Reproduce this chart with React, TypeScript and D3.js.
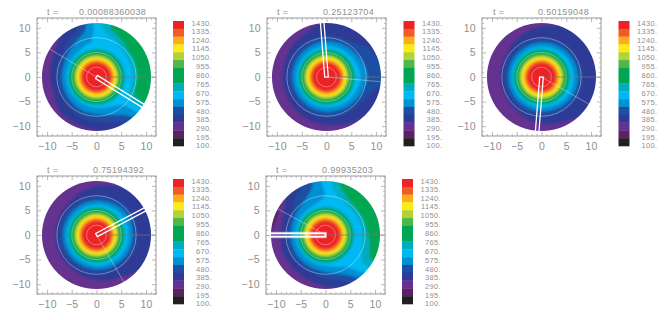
import React, { useEffect, useRef } from "react";
import * as d3 from "d3";

const times = ["0.00088360038", "0.25123704", "0.50159048", "0.75194392", "0.99935203"];
const barLabels = [1430, 1335, 1240, 1145, 1050, 955, 860, 765, 670, 575, 480, 385, 290, 195, 100];
// colour bar cells, top to bottom
const barColors = [
  "#ec2227", "#f15a29", "#fbae17", "#fdeb14", "#b2d235", "#4fb848", "#00a651", "#00a651",
  "#00adc0", "#00b9f2", "#0090d4", "#1c4fa1", "#2e3a96", "#65308f", "#5b2166", "#231f20",
];
const axisTicks = [-10, -5, 0, 5, 10];
const minorTicks = d3.range(-12, 13).filter((d) => d % 5 !== 0);
const contourRadii = [2, 5, 8];

// needle and thin line directions, degrees counter clockwise from east
const needleAngles = [-32, 94.5, 265.5, 28, 180];
const wakeAngles = [149, -5, -30, -60, 151];

// the core is the same in every panel
const coreRadii = [0, 1, 2, 2.8, 3.2, 3.6, 4, 4.3, 4.6, 5, 5.5];
const coreValues = [1450, 1430, 1395, 1347, 1264, 1181, 1098, 1015, 931, 840, 765];

// outer part: one row per direction (every 22.5 deg from east), values at outerRadii
const outerRadii = [6, 7, 8.5, 10, 11.2];
const field1 = [
  [650, 660, 790, 820, 820], [640, 660, 780, 820, 820], [630, 640, 770, 820, 820], [625, 625, 680, 790, 820],
  [620, 605, 620, 620, 640], [615, 590, 530, 440, 400], [610, 550, 450, 370, 340], [605, 520, 390, 340, 300],
  [605, 510, 385, 325, 290], [600, 510, 385, 320, 290], [600, 525, 420, 360, 300], [610, 540, 440, 370, 310],
  [620, 550, 460, 380, 340], [630, 580, 510, 420, 380], [640, 620, 600, 570, 540], [650, 670, 780, 820, 820],
];
const field2 = [
  [650, 590, 500, 470, 460], [640, 570, 480, 470, 420], [635, 550, 445, 420, 390], [630, 540, 430, 390, 370],
  [625, 530, 420, 380, 350], [615, 520, 400, 350, 320], [605, 510, 385, 330, 300], [600, 500, 365, 320, 290],
  [595, 500, 360, 320, 290], [595, 500, 360, 320, 290], [600, 500, 370, 320, 290], [610, 510, 385, 330, 300],
  [615, 520, 400, 340, 310], [625, 530, 420, 360, 330], [635, 550, 430, 380, 350], [640, 570, 460, 410, 390],
];
const field3 = [
  [650, 545, 410, 380, 370], [640, 540, 400, 375, 365], [635, 530, 400, 370, 360], [625, 520, 395, 365, 350],
  [615, 510, 385, 355, 335], [605, 500, 370, 340, 320], [595, 490, 355, 325, 300], [590, 485, 340, 310, 290],
  [590, 485, 335, 305, 285], [590, 485, 335, 305, 285], [595, 490, 345, 310, 285], [605, 495, 360, 320, 290],
  [615, 510, 380, 335, 305], [625, 520, 395, 350, 325], [635, 535, 405, 370, 350], [645, 545, 410, 380, 365],
];
const field4 = [
  [645, 540, 400, 370, 360], [640, 550, 420, 400, 390], [640, 545, 430, 410, 370], [630, 520, 395, 365, 345],
  [620, 510, 380, 350, 325], [605, 500, 365, 330, 305], [595, 490, 350, 310, 295], [590, 485, 340, 305, 285],
  [590, 485, 335, 300, 285], [590, 485, 340, 300, 285], [595, 490, 345, 305, 285], [605, 495, 355, 315, 290],
  [615, 505, 370, 325, 300], [625, 520, 390, 340, 320], [635, 530, 400, 360, 345], [640, 540, 400, 370, 355],
];
const field5 = [
  [650, 650, 760, 820, 830], [645, 650, 780, 830, 830], [640, 650, 790, 830, 830], [630, 630, 720, 790, 820],
  [625, 610, 600, 620, 640], [615, 580, 530, 480, 440], [610, 550, 450, 400, 360], [605, 520, 385, 320, 190],
  [600, 510, 375, 310, 270], [595, 510, 385, 320, 280], [600, 520, 385, 325, 290], [610, 530, 400, 340, 300],
  [620, 550, 450, 370, 320], [635, 600, 520, 440, 390], [645, 640, 640, 620, 580], [650, 650, 700, 790, 820],
];
const fields = [field1, field2, field3, field4, field5];

// layout of each panel
const panels = [
  { left: 37, top: 18, barLeft: 173, barTop: 21, tX: 47, valueX: 79 },
  { left: 267, top: 18, barLeft: 403.5, barTop: 21, tX: 277, valueX: 323 },
  { left: 482, top: 18, barLeft: 618.5, barTop: 21, tX: 493, valueX: 538 },
  { left: 37, top: 176, barLeft: 173, barTop: 179, tX: 47, valueX: 93 },
  { left: 266, top: 176, barLeft: 402, barTop: 179, tX: 276, valueX: 322 },
];

const gray = "#909090";
const fontFamily = "'Liberation Sans', Arial, sans-serif";
const plotW = 119;
const plotH = 118;
const discR = 11;

// Catmull-Rom between neighbouring directions so the bands bend smoothly
const rom = (a: number, b: number, c: number, d: number, t: number) =>
  0.5 * (2 * b + (c - a) * t + (2 * a - 5 * b + 4 * c - d) * t * t + (3 * b - a - 3 * c + d) * t * t * t);

function fieldLookup(rows: number[][]) {
  const radial = rows.map((row) =>
    d3.scaleLinear().domain(coreRadii.concat(outerRadii)).range(coreValues.concat(row)).clamp(true)
  );
  const m = rows.length;
  const step = 360 / m;
  return (x: number, y: number) => {
    const r = Math.hypot(x, y);
    let a = (Math.atan2(y, x) * 180) / Math.PI;
    if (a < 0) a += 360;
    const i = Math.floor(a / step) % m;
    const t = a / step - Math.floor(a / step);
    return rom(
      radial[(i + m - 1) % m](r),
      radial[i](r),
      radial[(i + 1) % m](r),
      radial[(i + 2) % m](r),
      t
    );
  };
}

const fmt = (d: any) => String(d).replace("-", "\u2212");

export default function App() {
  const ref = useRef<SVGSVGElement>(null);

  useEffect(() => {
    const svg = d3.select(ref.current);
    svg.selectAll("*").remove();

    const defs = svg.append("defs");
    defs.append("filter").attr("id", "soft").append("feGaussianBlur").attr("stdDeviation", 0.9);

    const colorsUp = barColors.slice().reverse();
    const cell = (1430 - 100) / colorsUp.length;
    const thresholds = colorsUp.map((_, i) => 100 + i * cell);

    const n = 120;
    const gridStep = 24 / n;

    panels.forEach((p, pi) => {
      const g = svg.append("g").attr("transform", `translate(${p.left},${p.top})`);
      const x = d3.scaleLinear().domain([-12, 12]).range([0, plotW]);
      const y = d3.scaleLinear().domain([-12, 12]).range([plotH, 0]);

      defs.append("clipPath").attr("id", `disc${pi}`)
        .append("ellipse")
        .attr("cx", x(0)).attr("cy", y(0))
        .attr("rx", x(discR) - x(0)).attr("ry", y(0) - y(discR));

      // filled bands
      const lookup = fieldLookup(fields[pi]);
      const values = new Array(n * n);
      for (let j = 0; j < n; j++) {
        for (let i = 0; i < n; i++) {
          values[j * n + i] = lookup(-12 + (i + 0.5) * gridStep, 12 - (j + 0.5) * gridStep);
        }
      }
      const bands = d3.contours().size([n, n]).thresholds(thresholds)(values);
      const path = d3.geoPath(
        d3.geoTransform({
          point(px: number, py: number) {
            (this as any).stream.point(x(-12 + px * gridStep), y(12 - py * gridStep));
          },
        })
      );
      g.append("g").attr("clip-path", `url(#disc${pi})`)
        .append("g").attr("filter", "url(#soft)")
        .selectAll("path")
        .data(bands)
        .join("path")
        .attr("d", (d: any) => path(d))
        .attr("fill", (_, i) => colorsUp[i]);

      // radius rings
      g.selectAll("ellipse.ring")
        .data(contourRadii)
        .join("ellipse")
        .attr("class", "ring")
        .attr("cx", x(0)).attr("cy", y(0))
        .attr("rx", (d) => x(d) - x(0)).attr("ry", (d) => y(0) - y(d))
        .attr("fill", "none")
        .attr("stroke", "#fff").attr("stroke-opacity", 0.5).attr("stroke-width", 0.7);

      // thin lines out of the centre
      g.append("line")
        .attr("x1", x(0)).attr("y1", y(0)).attr("x2", plotW).attr("y2", y(0))
        .attr("stroke", "#777").attr("stroke-width", 0.7);
      const wake = (wakeAngles[pi] * Math.PI) / 180;
      g.append("line")
        .attr("x1", x(0)).attr("y1", y(0))
        .attr("x2", x(discR * Math.cos(wake))).attr("y2", y(discR * Math.sin(wake)))
        .attr("stroke", "#fff").attr("stroke-opacity", 0.5).attr("stroke-width", 0.7);

      // needle: two white lines, closed at the centre end
      const a = (needleAngles[pi] * Math.PI) / 180;
      const off = 0.36;
      const nx = -Math.sin(a) * off;
      const ny = Math.cos(a) * off;
      const end = 11.1;
      const ex = end * Math.cos(a);
      const ey = end * Math.sin(a);
      const needle = d3.path();
      needle.moveTo(x(ex + nx), y(ey + ny));
      needle.lineTo(x(nx), y(ny));
      needle.lineTo(x(-nx), y(-ny));
      needle.lineTo(x(ex - nx), y(ey - ny));
      if (pi === 4) {
        // the horizontal one reads paler and wider in the last panel
        g.append("path")
          .attr("d", needle.toString())
          .attr("fill", "none").attr("stroke", "#fff").attr("stroke-opacity", 0.45).attr("stroke-width", 2.8);
      }
      g.append("path")
        .attr("d", needle.toString())
        .attr("fill", "none").attr("stroke", "#fff").attr("stroke-width", 1.3);

      // frame and ticks
      g.append("rect")
        .attr("width", plotW).attr("height", plotH)
        .attr("fill", "none").attr("stroke", "#999").attr("stroke-width", 1);

      const axes = [
        { axis: d3.axisBottom(x), at: `translate(0,${plotH})`, labels: true, pad: 7 },
        { axis: d3.axisTop(x), at: "translate(0,0)", labels: false, pad: 0 },
        { axis: d3.axisLeft(y), at: "translate(0,0)", labels: true, pad: 6 },
        { axis: d3.axisRight(y), at: `translate(${plotW},0)`, labels: false, pad: 0 },
      ];
      axes.forEach(({ axis, at, labels, pad }) => {
        const scaleAxis = axis as any;
        const major = g.append("g").attr("transform", at).call(
          scaleAxis.tickValues(axisTicks).tickSize(-4).tickPadding(pad)
            .tickFormat(labels ? fmt : () => "")
        );
        major.select(".domain").remove();
        major.selectAll("line").attr("stroke", "#999").attr("stroke-width", 0.7);
        major.selectAll("text")
          .attr("fill", gray).attr("font-size", 10.5).attr("letter-spacing", 0.3).attr("font-family", fontFamily);
        const minor = g.append("g").attr("transform", at).call(
          scaleAxis.tickValues(minorTicks).tickSize(-2).tickFormat(() => "")
        );
        minor.select(".domain").remove();
        minor.selectAll("line").attr("stroke", "#999").attr("stroke-width", 0.6);
      });

      // title
      const titleY = p.top - 3.5;
      [
        { tx: p.tX, label: "t =" },
        { tx: p.valueX, label: times[pi] },
      ].forEach(({ tx, label }) => {
        svg.append("text")
          .attr("x", tx).attr("y", titleY)
          .attr("fill", gray).attr("font-size", 9).attr("letter-spacing", 0.35).attr("font-family", fontFamily)
          .text(label);
      });

      // colour bar
      const barH = 125;
      const barW = 11;
      const bar = svg.append("g").attr("transform", `translate(${p.barLeft},${p.barTop})`);
      const band = d3.scaleBand<number>().domain(d3.range(barColors.length)).range([0, barH]);
      bar.selectAll("rect")
        .data(barColors)
        .join("rect")
        .attr("y", (_, i) => band(i) as number)
        .attr("width", barW)
        .attr("height", band.bandwidth() + 0.3)
        .attr("fill", (d) => d);
      const labelY = d3.scaleLinear().domain([100, 195, 1335, 1430]).range([124, 116.5, 10, 2.5]);
      bar.selectAll("text")
        .data(barLabels)
        .join("text")
        .attr("x", 39)
        .attr("y", (d) => labelY(d))
        .attr("dy", "0.35em")
        .attr("text-anchor", "end")
        .attr("fill", gray).attr("font-size", 7.5).attr("letter-spacing", 0.35).attr("font-family", fontFamily)
        .text((d) => `${d}.`);
    });
  }, []);

  return (
    <svg
      ref={ref}
      width={664}
      height={320}
      style={{ position: "absolute", left: 0, top: 0, background: "#fff" }}
    />
  );
}
